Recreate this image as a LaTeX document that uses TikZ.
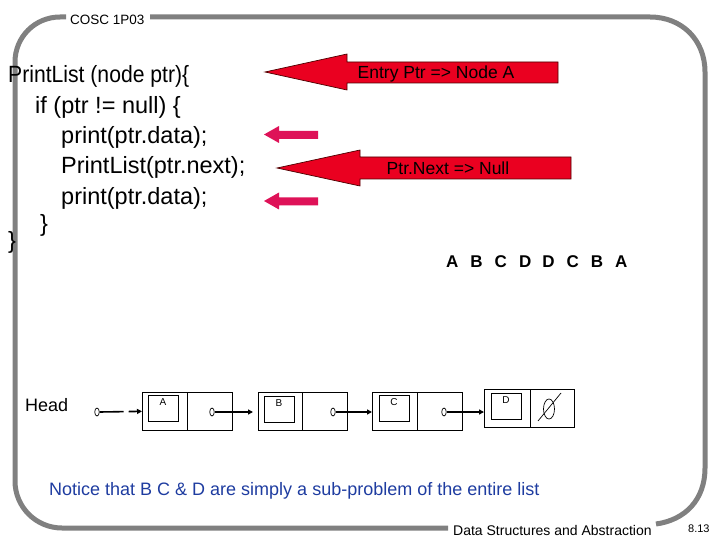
\documentclass[tikz,border=0pt]{standalone}
\usepackage{fontspec}
\setmainfont{Liberation Sans}
\newfontfamily\tightsans[FakeStretch=0.9]{Liberation Sans}
\usetikzlibrary{arrows.meta,shapes.geometric}
\definecolor{frame}{gray}{0.5}
\definecolor{bigred}{RGB}{234,0,32}
\definecolor{pinkred}{RGB}{222,18,88}
\definecolor{noteblue}{RGB}{30,60,160}
\tikzset{
  code/.style={anchor=base west,inner sep=0pt,font=\fontsize{23.5}{28}\selectfont},
  calltext/.style={anchor=base,inner sep=0pt,font=\fontsize{17.5}{20}\selectfont},
  bigarrow/.style={fill=bigred,draw=black!70!red,line width=0.7pt},
  smallarrow/.style={fill=pinkred,draw=none},
  half/.style={draw,line width=0.7pt,minimum height=38pt,inner sep=0pt,anchor=north west},
  inbox/.style={draw,line width=0.7pt,minimum width=30pt,minimum height=26pt,inner sep=0pt,anchor=north west},
  boxlabel/.style={anchor=base,inner sep=0pt,font=\fontsize{10}{12}\selectfont},
  ptr/.style={ellipse,draw,line width=0.7pt,minimum width=4.5pt,minimum height=8pt,inner sep=0pt},
  link/.style={line width=1.6pt,-{Triangle[length=5pt,width=5pt]}},
  framestroke/.style={draw=frame,line width=5pt}
}
\begin{document}
\begin{tikzpicture}[x=1pt,y=-1pt]
\useasboundingbox (0,0) rectangle (720,540);
% frame
\draw[framestroke] (150,17) -- (650,17) .. controls (682,17) and (705,40) .. (705,72) -- (705,468) .. controls (705,500) and (685,520) .. (656,524);
\draw[framestroke] (448,528) -- (62,528) .. controls (36,528) and (15,507) .. (15,481) -- (15,62) .. controls (15,37) and (35,17) .. (60,17) -- (66,17);
\node[anchor=base west,inner sep=0pt,font=\fontsize{13.5}{16}\selectfont] (title) at (70,25) {COSC 1P03};
\node[anchor=base west,inner sep=0pt,font=\fontsize{14}{16}\selectfont] (footer) at (453,535) {Data Structures and Abstraction};
\node[anchor=base west,inner sep=0pt,font=\fontsize{11}{13}\selectfont] (page) at (688,532) {8.13};
% code
\node[code,font=\tightsans\fontsize{23.5}{28}\selectfont] (l1) at (8,83) {PrintList (node ptr)\{};
\node[code] (l2) at (35,113.5) {if (ptr != null) \{};
\node[code] (l3) at (61,144) {print(ptr.data);};
\node[code] (l4) at (61,174) {PrintList(ptr.next);};
\node[code] (l5) at (61,204.5) {print(ptr.data);};
\node[code] (l6) at (40,232) {\}};
\node[code] (l7) at (8,248) {\}};
% big arrows
\draw[bigarrow] (265,72) -- (347,54) -- (347,62) -- (558,62) -- (558,83) -- (347,83) -- (347,90) -- cycle;
\node[calltext] (entry) at (436,78.5) {Entry Ptr => Node A};
\draw[bigarrow] (277,168) -- (360,150) -- (360,157) -- (571,157) -- (571,179) -- (360,179) -- (360,186) -- cycle;
\node[calltext] (nextnull) at (448,174.5) {Ptr.Next => Null};
% small arrows
\fill[smallarrow] (264,134.5) -- (279,126) -- (279,131) -- (318,131) -- (318,139) -- (279,139) -- (279,143) -- cycle;
\fill[smallarrow] (264,201) -- (279,192.5) -- (279,197.5) -- (318,197.5) -- (318,205.5) -- (279,205.5) -- (279,209.5) -- cycle;
% output sequence
\node[anchor=base west,inner sep=0pt,font=\fontsize{17}{20}\selectfont\bfseries] (seq) at (446,267)
  {A\hspace{12pt}B\hspace{12pt}C\hspace{12pt}D\hspace{11pt}D\hspace{12pt}C\hspace{12pt}B\hspace{12pt}A};
% linked list
\node[anchor=base west,inner sep=0pt,font=\fontsize{18}{20}\selectfont] (head) at (25,411) {Head};
\node[ptr] (hp) at (97,412) {};
% node A
\node[half,minimum width=45pt] (Al) at (142,392) {};
\node[half,minimum width=45pt] (Ar) at (187,392) {};
\node[inbox] (Ai) at (148,395) {};
\node[boxlabel] at (163,405) {A};
\node[ptr] (Ap) at (212,412) {};
% node B
\node[half,minimum width=44pt] (Bl) at (258,392) {};
\node[half,minimum width=45pt] (Br) at (302,392) {};
\node[inbox] (Bi) at (264,396) {};
\node[boxlabel] at (279,406) {B};
\node[ptr] (Bp) at (333,412) {};
% node C
\node[half,minimum width=45pt] (Cl) at (372,392) {};
\node[half,minimum width=45pt] (Cr) at (417,392) {};
\node[inbox] (Ci) at (379,395) {};
\node[boxlabel] at (394,405) {C};
\node[ptr] (Cp) at (444,412) {};
% node D
\node[half,minimum width=46pt] (Dl) at (484,389) {};
\node[half,minimum width=44pt] (Dr) at (530,389) {};
\node[inbox] (Di) at (491,393) {};
\node[boxlabel] at (506,403) {D};
\node[ellipse,draw,line width=0.7pt,minimum width=11pt,minimum height=20pt,inner sep=0pt] (null) at (549,409) {};
\draw[line width=0.7pt] (538,421) -- (561,393);
% links
\draw[link,dash pattern=on 24pt off 5pt] (hp.east) -- (Al.west);
\draw[link,shorten >=5pt] (Ap.east) -- (Bl.west|-Ap.east);
\draw[link] (Bp.east) -- (Cl.west|-Bp.east);
\draw[link] (Cp.east) -- (Dl.west|-Cp.east);
% note
\node[anchor=base west,inner sep=0pt,text=noteblue,font=\fontsize{18}{20}\selectfont] (note) at (49,495) {Notice that B C \& D are simply a sub-problem of the entire list};
\end{tikzpicture}
\end{document}
